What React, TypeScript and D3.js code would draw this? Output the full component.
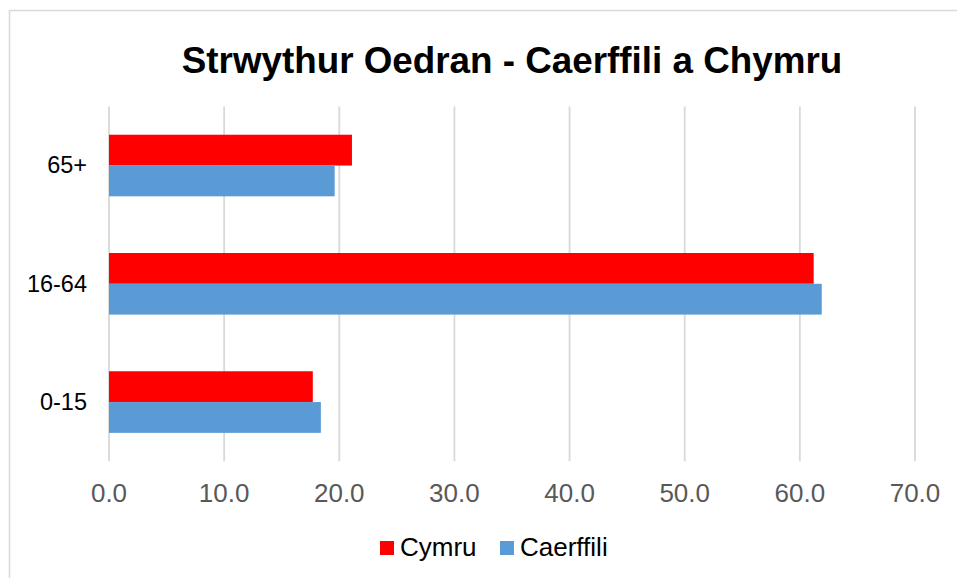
import React from "react";
import * as d3 from "d3";

const categories = ["65+", "16-64", "0-15"];
const seriesNames = ["Cymru", "Caerffili"];
const cymru = [21.1, 61.2, 17.7];
const caerffili = [19.6, 61.9, 18.4];
const xTicks = [0, 10, 20, 30, 40, 50, 60, 70];
const colors = ["#FF0000", "#5B9BD5"];
const title = "Strwythur Oedran - Caerffili a Chymru";

export default function App() {
  const W = 957, H = 578;
  const left = 109, right = 915, top = 106.4, bottom = 461.2;
  const x = d3.scaleLinear().domain([0, 70]).range([left, right]);
  const y = d3.scaleBand<string>().domain(categories).range([top, bottom]).paddingInner(0).paddingOuter(0);
  const barH = 30.8;
  const series = [cymru, caerffili];
  const font = "Arial, 'Liberation Sans', sans-serif";
  return (
    <svg width={W} height={H} style={{ position: "absolute", left: 0, top: 0 }} fontFamily={font}>
      <rect x={0} y={0} width={W} height={H} fill="#fff" />
      <rect x={9.5} y={10.5} width={1000} height={1000} fill="none" stroke="#D9D9D9" strokeWidth={1.5} />
      <text x={512} y={73} textAnchor="middle" fontSize={36.8} fontWeight="bold" fill="#000">{title}</text>
      {xTicks.map((t) => (
        <g key={t}>
          <line x1={x(t)} x2={x(t)} y1={top} y2={bottom} stroke="#D9D9D9" strokeWidth={1.8} />
          <text x={x(t)} y={502} textAnchor="middle" fontSize={26} fill="#595959">{t.toFixed(1)}</text>
        </g>
      ))}
      {categories.map((c, i) => {
        const cy = (y(c) as number) + y.bandwidth() / 2;
        return (
          <g key={c}>
            {series.map((s, j) => (
              <rect key={j} x={x(0)} y={cy - barH + j * barH} width={x(s[i]) - x(0)} height={barH} fill={colors[j]} />
            ))}
            <text x={87} y={cy + 7.7} textAnchor="end" fontSize={23.5} fill="#000">{c}</text>
          </g>
        );
      })}
      {seriesNames.map((n, j) => {
        const lx = [380, 500][j];
        return (
          <g key={n}>
            <rect x={lx} y={541} width={14} height={14} fill={colors[j]} />
            <text x={lx + 20} y={556} fontSize={26} fill="#000">{n}</text>
          </g>
        );
      })}
    </svg>
  );
}
